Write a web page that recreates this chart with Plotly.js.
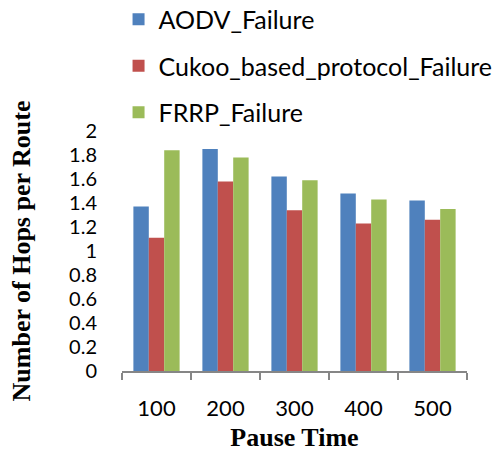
<!DOCTYPE html>
<html><head><meta charset="utf-8">
<script src="https://cdn.plot.ly/plotly-3.0.1.min.js"></script>
<style>html,body{margin:0;padding:0;background:#fff}</style>
</head><body><div id="chart" style="width:494px;height:457px"></div>
<script>
var categories = ["100", "200", "300", "400", "500"];
var aodv = [1.37, 1.85, 1.62, 1.48, 1.42];
var cukoo = [1.11, 1.58, 1.34, 1.23, 1.26];
var frrp = [1.84, 1.78, 1.59, 1.43, 1.35];
var seriesNames = ["AODV_Failure", "Cukoo_based_protocol_Failure", "FRRP_Failure"];
var colors = ["#4F81BD", "#C0504D", "#9BBB59"];
var yTicks = [0, 0.2, 0.4, 0.6, 0.8, 1, 1.2, 1.4, 1.6, 1.8, 2];
var yTickText = ["0", "0.2", "0.4", "0.6", "0.8", "1", "1.2", "1.4", "1.6", "1.8", "2"];

var vals = [aodv, cukoo, frrp];
var data = vals.map(function(v, i){
  return {type: "bar", x: categories, y: v, name: seriesNames[i],
    legendgroup: "g" + i,
    marker: {color: colors[i], line: {width: 0}}};
});
var xTickFont = {family: "Lato, 'Open Sans', sans-serif", size: 22, color: "#000"};
var yTickFont = {family: "Lato, 'Open Sans', sans-serif", size: 20, color: "#000"};
var titleFont = {family: "'Liberation Serif', 'Times New Roman', serif", size: 26, color: "#000", weight: "bold"};
var layout = {
  width: 494, height: 457,
  margin: {l: 122, r: 27, t: 131, b: 86, autoexpand: false},
  paper_bgcolor: "#fff", plot_bgcolor: "#fff",
  barmode: "group", bargap: 0.33, bargroupgap: 0,
  showlegend: true,
  legend: {x: -0.01, y: 1.56, xanchor: "left", yanchor: "top",
    font: {family: "Lato, 'Open Sans', sans-serif", size: 25, color: "#000"},
    tracegroupgap: 11, traceorder: "grouped", itemwidth: 30, bgcolor: "rgba(0,0,0,0)"},
  xaxis: {type: "category", showline: true, linecolor: "#868686", linewidth: 1.5,
    ticks: "outside", tickson: "boundaries", ticklen: 7, tickcolor: "#868686", tickwidth: 1.5,
    tickfont: xTickFont, showgrid: false, zeroline: false, ticklabelstandoff: 17,
    title: {text: "Pause Time", font: titleFont, standoff: 8}},
  yaxis: {range: [0, 2], tickvals: yTicks, ticktext: yTickText, showline: false, showgrid: false,
    zeroline: false, ticks: "", tickfont: yTickFont, ticklabelstandoff: 24,
    title: {text: "Number of Hops per Route", font: titleFont, standoff: 30}}
};
Plotly.newPlot("chart", data, layout, {staticPlot: true, displayModeBar: false});
</script></body></html>
